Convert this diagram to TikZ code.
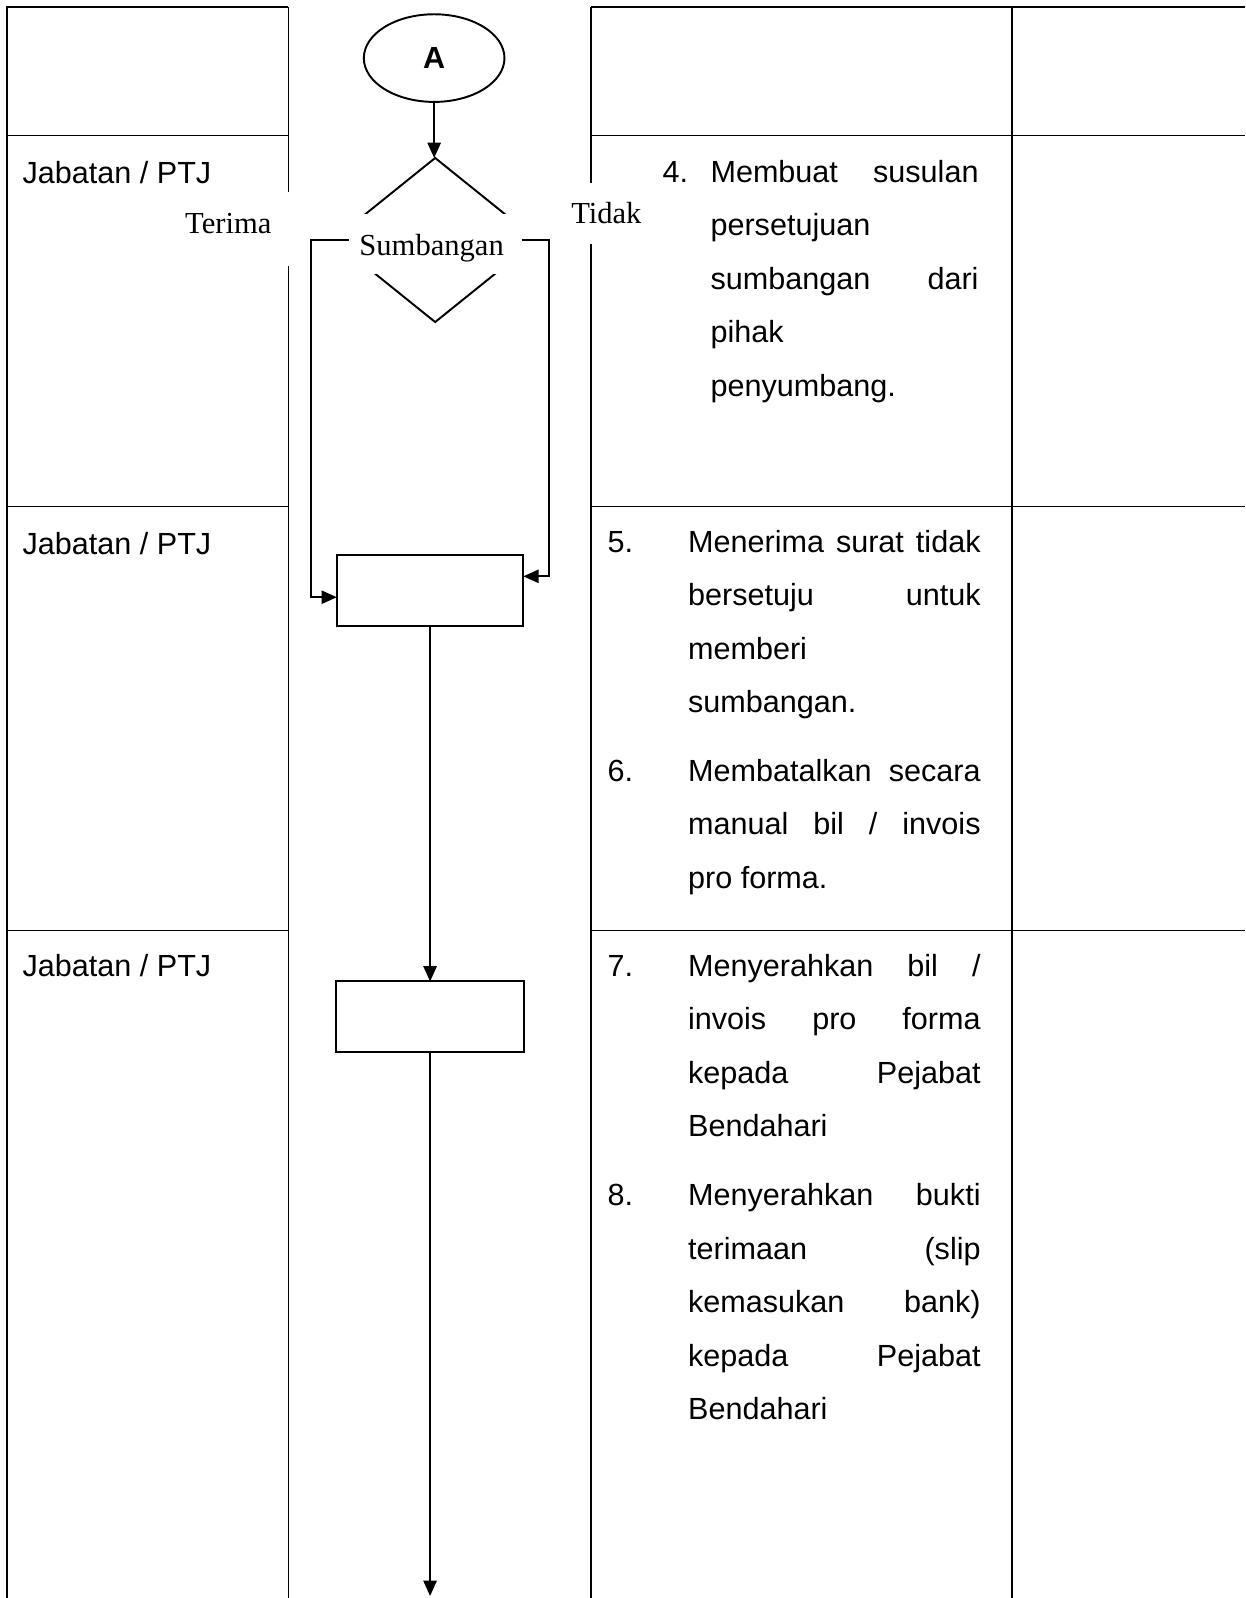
\documentclass[tikz,border=0pt]{standalone}
\usepackage{fontspec}
\setmainfont{Liberation Sans}
\newfontfamily\serifff{Liberation Serif}
\usetikzlibrary{shapes.geometric,arrows.meta}
\newcommand{\jfy}[2]{\makebox[#1][s]{#2}}
\begin{document}
\begin{tikzpicture}[x=1pt,y=-1pt,
  tbl/.style={line width=1.4pt},
  flow/.style={line width=1.9pt,-{Triangle[length=15pt,width=13pt]}},
  shp/.style={draw,line width=1.9pt,inner sep=0pt,outer sep=0pt},
  txt/.style={anchor=base west,inner sep=0pt,font=\fontsize{30}{36}\selectfont},
  lbl/.style={anchor=base,inner sep=0pt,font=\serifff\fontsize{30}{36}\selectfont}]
\useasboundingbox (0,0) rectangle (1222,1568);

% table grid
\draw[tbl] (7,1568) -- (7,7) -- (283,7);
\draw[tbl] (283,7) -- (283,188);
\draw[tbl] (283,261) -- (283,1568);
\draw[tbl] (580,7) -- (580,180);
\draw[tbl] (580,239) -- (580,1568);
\draw[tbl] (580,7) -- (1222,7);
\draw[tbl] (993,7) -- (993,1568);
\foreach \yy in {133,497,913}{
  \draw[tbl] (7,\yy) -- (283,\yy);
  \draw[tbl] (580,\yy) -- (1222,\yy);
}

% left column
\node[txt] (j1) at (22,180) {Jabatan / PTJ};
\node[txt] (j2) at (22,544) {Jabatan / PTJ};
\node[txt] (j3) at (22,958) {Jabatan / PTJ};

% flow
\node[shp, ellipse, minimum width=138pt, minimum height=86pt,
      font=\bfseries\fontsize{30}{36}\selectfont] (A) at (426,57) {A};
\node[shp, diamond, minimum width=200pt, minimum height=161pt] (d) at (427,235.5) {};
\node[lbl, fill=white, text height=41pt, text depth=18pt, inner xsep=36pt] (s) at (423.5,251) {Sumbangan};
\node[lbl] (terima) at (224,229) {Terima};
\node[lbl] (tidak) at (595,219) {Tidak};
\node[shp, minimum width=183pt, minimum height=69pt] (b1) at (422,579.5) {};
\node[shp, minimum width=184pt, minimum height=69pt] (b2) at (422,997.5) {};
\coordinate (end) at (422,1566);

\draw[flow] (A.south) -- (A.south |- d.north);
\draw[flow, shorten <=-15pt] (d.west) -- ++(-22,0) |- ([yshift=-6.5pt]b1.west);
\draw[flow, shorten <=-15pt] (d.east) -- ++(12,0) |- ([yshift=14pt]b1.east);
\draw[flow] (b1) -- (b2);
\draw[flow] (b2) -- (end);

% item 4
\node[txt] (n4) at (650,179) {4.};
\node[txt] (t4a) at (697,179) {\jfy{263pt}{Membuat susulan}};
\node[txt] (t4b) at (697,231.5) {persetujuan};
\node[txt] (t4c) at (697,284) {\jfy{263pt}{sumbangan dari}};
\node[txt] (t4d) at (697,336.5) {pihak};
\node[txt] (t4e) at (697,389) {penyumbang.};

% item 5
\node[txt] (n5) at (596,542) {5.};
\node[txt] (t5a) at (675,542) {\jfy{287pt}{Menerima surat tidak}};
\node[txt] (t5b) at (675,594.5) {\jfy{287pt}{bersetuju untuk}};
\node[txt] (t5c) at (675,647) {memberi};
\node[txt] (t5d) at (675,699.5) {sumbangan.};

% item 6
\node[txt] (n6) at (596,766.5) {6.};
\node[txt] (t6a) at (675,766.5) {\jfy{287pt}{Membatalkan secara}};
\node[txt] (t6b) at (675,819) {\jfy{287pt}{manual bil / invois}};
\node[txt] (t6c) at (675,871.5) {pro forma.};

% item 7
\node[txt] (n7) at (596,958) {7.};
\node[txt] (t7a) at (675,958) {\jfy{287pt}{Menyerahkan bil /}};
\node[txt] (t7b) at (675,1010.5) {\jfy{287pt}{invois pro forma}};
\node[txt] (t7c) at (675,1063) {\jfy{287pt}{kepada Pejabat}};
\node[txt] (t7d) at (675,1115.5) {Bendahari};

% item 8
\node[txt] (n8) at (596,1183) {8.};
\node[txt] (t8a) at (675,1183) {\jfy{287pt}{Menyerahkan bukti}};
\node[txt] (t8b) at (675,1235.5) {\jfy{287pt}{terimaan (slip}};
\node[txt] (t8c) at (675,1288) {\jfy{287pt}{kemasukan bank)}};
\node[txt] (t8d) at (675,1340.5) {\jfy{287pt}{kepada Pejabat}};
\node[txt] (t8e) at (675,1393) {Bendahari};
\end{tikzpicture}
\end{document}
